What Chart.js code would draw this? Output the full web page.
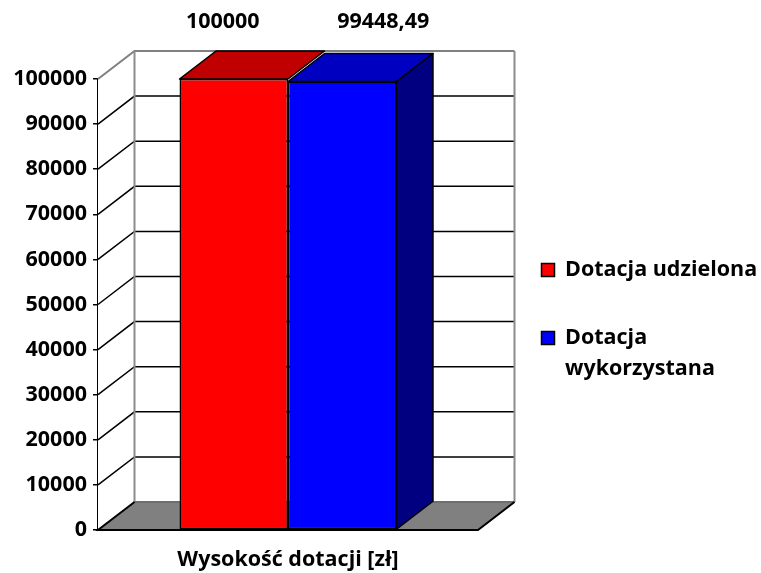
<!DOCTYPE html>
<html>
<head>
<meta charset="utf-8">
<script src="https://cdn.jsdelivr.net/npm/chart.js@4"></script>
<style>
    html, body { margin: 0; padding: 0; background: #fff; }
    #wrap { width: 761px; height: 573px; }
</style>
</head>
<body>
<div id="wrap"><canvas id="chart" width="761" height="573"></canvas></div>
<script>
// data
let categories = [''];
let seriesNames = ['Dotacja udzielona', ['Dotacja', 'wykorzystana']];
let seriesValues = [[100000], [99448.49]];
let valueLabels = ['100000', '99448,49'];
let axisTitle = 'Wysokość dotacji [zł]';

let frontColors = ['#ff0000', '#0000ff'];
let topColors = ['#c00000', '#0000c0'];
let sideColors = ['#800000', '#000080'];

let FONT = '"Open Sans", "DejaVu Sans", sans-serif';
let FONT_SIZE = 21.5;
let DX = 36.5;
let DY = -28;

/**
 * Draws the 3D walls, floor and gridlines behind the bars.
 */
let walls = {
    id: 'walls',
    beforeDatasetsDraw(chart) {
        let ctx = chart.ctx;
        let a = chart.chartArea;
        let y = chart.scales.y;
        ctx.save();

        // left wall + back wall
        ctx.fillStyle = '#ffffff';
        ctx.beginPath();
        ctx.moveTo(a.left, a.top);
        ctx.lineTo(a.left + DX, a.top + DY);
        ctx.lineTo(a.right + DX, a.top + DY);
        ctx.lineTo(a.right + DX, a.bottom + DY);
        ctx.lineTo(a.left, a.bottom);
        ctx.closePath();
        ctx.fill();

        // floor
        ctx.fillStyle = '#808080';
        ctx.beginPath();
        ctx.moveTo(a.left, a.bottom);
        ctx.lineTo(a.right, a.bottom);
        ctx.lineTo(a.right + DX, a.bottom + DY);
        ctx.lineTo(a.left + DX, a.bottom + DY);
        ctx.closePath();
        ctx.fill();

        // gridlines
        y.ticks.forEach(t => {
            if (t.value <= y.min) return;
            let py = y.getPixelForValue(t.value);
            ctx.strokeStyle = t.value >= y.max ? '#808080' : '#000000';
            ctx.lineWidth = t.value >= y.max ? 2 : 1.5;
            ctx.beginPath();
            ctx.moveTo(a.left, py);
            ctx.lineTo(a.left + DX, py + DY);
            ctx.lineTo(a.right + DX, py + DY);
            ctx.stroke();
        });

        // back wall vertical edges
        ctx.strokeStyle = '#8c8c8c';
        ctx.lineWidth = 2;
        ctx.beginPath();
        ctx.moveTo(a.left + DX, a.top + DY);
        ctx.lineTo(a.left + DX, a.bottom + DY);
        ctx.moveTo(a.right + DX, a.top + DY);
        ctx.lineTo(a.right + DX, a.bottom + DY);
        ctx.stroke();

        // floor back edge
        ctx.strokeStyle = '#6e6e6e';
        ctx.beginPath();
        ctx.moveTo(a.left + DX, a.bottom + DY);
        ctx.lineTo(a.right + DX, a.bottom + DY);
        ctx.stroke();

        // floor outline
        ctx.strokeStyle = '#000000';
        ctx.lineWidth = 2;
        ctx.beginPath();
        ctx.moveTo(a.left + DX, a.bottom + DY);
        ctx.lineTo(a.left, a.bottom);
        ctx.lineTo(a.right, a.bottom);
        ctx.lineTo(a.right + DX, a.bottom + DY);
        ctx.stroke();

        ctx.restore();
    }
};

function face(ctx, pts, fill) {
    ctx.fillStyle = fill;
    ctx.beginPath();
    ctx.moveTo(pts[0][0], pts[0][1]);
    for (let i = 1; i < pts.length; i++) {
        ctx.lineTo(pts[i][0], pts[i][1]);
    }
    ctx.closePath();
    ctx.fill();
    ctx.stroke();
}

/**
 * Draws the top and side faces of the bars and the value labels.
 */
let bars3d = {
    id: 'bars3d',
    afterDatasetsDraw(chart) {
        let ctx = chart.ctx;
        ctx.save();
        ctx.strokeStyle = '#000000';
        ctx.lineWidth = 1.5;
        ctx.lineJoin = 'round';
        let n = chart.data.datasets.length;
        chart.data.datasets.forEach((ds, i) => {
            chart.getDatasetMeta(i).data.forEach(bar => {
                let x0 = bar.x - bar.width / 2;
                let x1 = bar.x + bar.width / 2;
                let top = bar.y;
                let bottom = bar.base;
                face(ctx, [[x0, top], [x1, top], [x1 + DX, top + DY], [x0 + DX, top + DY]], topColors[i]);
                if (i === n - 1) {
                    face(ctx, [[x1, top], [x1 + DX, top + DY], [x1 + DX, bottom + DY], [x1, bottom]], sideColors[i]);
                }
            });
        });

        // value labels along the top
        let labelShift = [-11, 41];
        ctx.fillStyle = '#000000';
        ctx.font = 'bold ' + FONT_SIZE + 'px ' + FONT;
        ctx.textAlign = 'center';
        ctx.textBaseline = 'middle';
        chart.data.datasets.forEach((ds, i) => {
            let bar = chart.getDatasetMeta(i).data[0];
            ctx.fillText(valueLabels[i], bar.x + labelShift[i], 22);
        });
        ctx.restore();
    }
};

/**
 * Draws the legend on the right.
 */
let legendBox = {
    id: 'legendBox',
    afterDraw(chart) {
        let ctx = chart.ctx;
        let rows = [270, 338];
        ctx.save();
        ctx.font = 'bold ' + FONT_SIZE + 'px ' + FONT;
        ctx.textBaseline = 'middle';
        ctx.textAlign = 'left';
        seriesNames.forEach((name, i) => {
            let cy = rows[i];
            ctx.fillStyle = frontColors[i];
            ctx.fillRect(541.5, cy - 6.5, 13, 13);
            ctx.strokeStyle = '#000000';
            ctx.lineWidth = 1.5;
            ctx.strokeRect(541.5, cy - 6.5, 13, 13);
            ctx.fillStyle = '#000000';
            let lines = Array.isArray(name) ? name : [name];
            lines.forEach((line, k) => {
                ctx.fillText(line, 565, cy + k * 31);
            });
        });
        ctx.restore();
    }
};

new Chart(document.getElementById('chart'), {
    type: 'bar',
    data: {
        labels: categories,
        datasets: seriesValues.map((vals, i) => ({
            label: Array.isArray(seriesNames[i]) ? seriesNames[i].join(' ') : seriesNames[i],
            data: vals,
            backgroundColor: frontColors[i],
            borderColor: '#000000',
            borderWidth: 1.5,
            borderSkipped: false,
            barPercentage: 1,
            categoryPercentage: 0.571
        }))
    },
    options: {
        responsive: false,
        animation: false,
        layout: {
            padding: { left: 0, top: 79, right: 283, bottom: 0 }
        },
        plugins: {
            legend: { display: false },
            tooltip: { enabled: false }
        },
        scales: {
            x: {
                grid: { display: false },
                border: { display: false },
                ticks: { display: false },
                title: {
                    display: true,
                    text: axisTitle,
                    color: '#000000',
                    font: { family: FONT, size: FONT_SIZE, weight: 'bold' },
                    padding: { top: 0, bottom: 0 }
                },
                afterFit(scale) {
                    scale.height = 43;
                }
            },
            y: {
                min: 0,
                max: 100000,
                ticks: {
                    stepSize: 10000,
                    color: '#000000',
                    padding: 6,
                    font: { family: FONT, size: FONT_SIZE, weight: 'bold' },
                    callback: v => String(v)
                },
                grid: {
                    drawOnChartArea: false,
                    color: '#000000',
                    lineWidth: 1.5,
                    tickLength: 5
                },
                border: { color: '#000000', width: 1.5 },
                afterFit(scale) {
                    scale.width = 98;
                }
            }
        }
    },
    plugins: [walls, bars3d, legendBox]
});
</script>
</body>
</html>
